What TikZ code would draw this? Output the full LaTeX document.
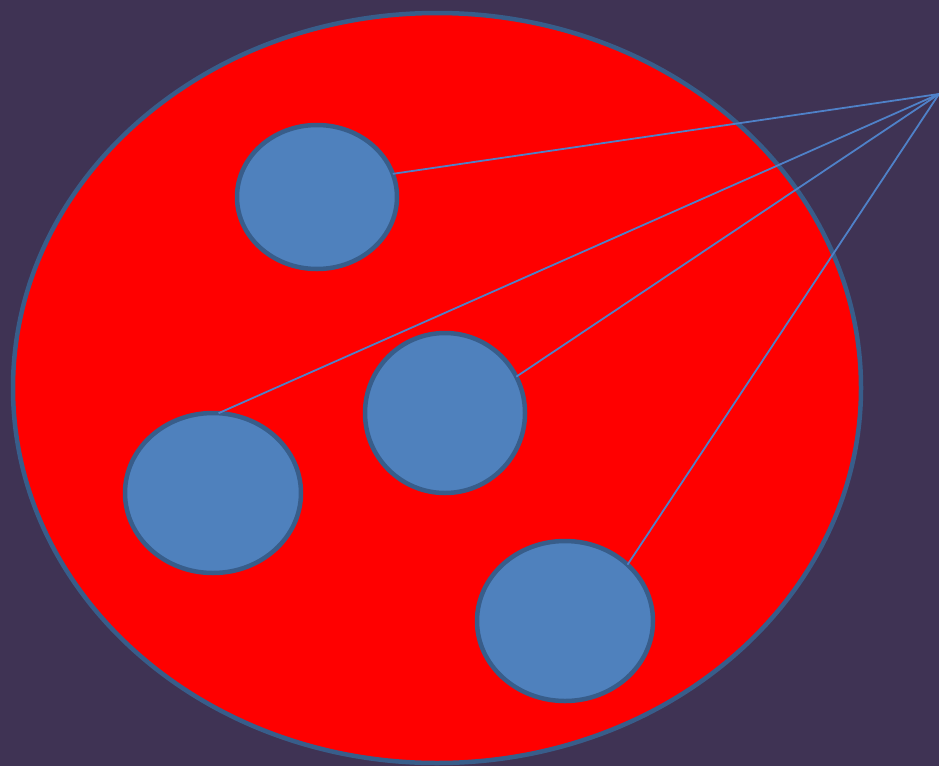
\documentclass[tikz,border=0pt]{standalone}
\usetikzlibrary{shapes.geometric}
\definecolor{bgc}{RGB}{63,51,84}
\definecolor{cellfill}{RGB}{79,129,189}
\definecolor{cellline}{RGB}{56,93,138}
\definecolor{linkc}{RGB}{79,129,200}
\begin{document}
\begin{tikzpicture}[x=1pt,y=-1pt,
  cell/.style={ellipse,fill=cellfill,draw=cellline,line width=4.5pt,inner sep=0pt,outer sep=0pt},
  link/.style={draw=linkc,line width=1.8pt}]
\fill[bgc] (0,0) rectangle (939,766);
\useasboundingbox (0,0) rectangle (939,766);
\node[ellipse,fill=red,draw=cellline,line width=4.5pt,inner sep=0pt,outer sep=0pt,
  minimum width=848pt,minimum height=750pt] (body) at (437,388) {};
\node[cell,minimum width=160pt,minimum height=144pt] (e1) at (317,197) {};
\node[cell,minimum width=160pt,minimum height=160pt] (e2) at (445,413) {};
\node[cell,minimum width=176pt,minimum height=160pt] (e3) at (213,493) {};
\node[cell,minimum width=176pt,minimum height=160pt] (e4) at (565,621) {};
\coordinate (apex) at (939,94);
\draw[link] (apex) -- (e1.17);
\draw[link] (apex) -- (e2.27);
\draw[link] (apex) -- (e3.86);
\draw[link] (apex) -- (e4.42);
\end{tikzpicture}
\end{document}
